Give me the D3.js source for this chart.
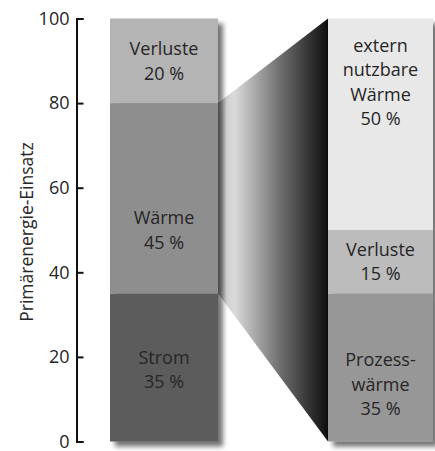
<!DOCTYPE html>
<html>
<head>
<meta charset="utf-8">
<script src="https://cdn.jsdelivr.net/npm/d3@7"></script>
<style>
  html, body { margin: 0; padding: 0; background: #fff; }
  svg { display: block; }
  text { font-family: "Open Sans", "Noto Sans", sans-serif; fill: #262626; }
</style>
</head>
<body>
<svg id="chart" width="435" height="451"></svg>
<script>
// ---- data ----
const yTicks = [0, 20, 40, 60, 80, 100];
const axisTitle = "Primärenergie-Einsatz";

// left column: Primärenergie-Einsatz
const leftNames  = ["Strom", "Wärme", "Verluste"];
const leftValues = [35, 45, 20];
const leftLabels = [["Strom", "35 %"], ["Wärme", "45 %"], ["Verluste", "20 %"]];
const leftLabelAt = [17, 50, 90];      // value at which label block is centred
const leftColors = ["#5b5b5b", "#8e8e8e", "#b4b4b4"];

// right column: breakdown of Wärme
const rightNames  = ["Prozesswärme", "Verluste", "extern nutzbare Wärme"];
const rightValues = [35, 15, 50];
const rightLabels = [["Prozess-", "wärme", "35 %"], ["Verluste", "15 %"], ["extern", "nutzbare", "Wärme", "50 %"]];
const rightLabelAt = [13.5, 42.5, 85];
const rightColors = ["#979797", "#bcbcbc", "#e8e8e8"];

const expandedIndex = 1; // Wärme is expanded into the right column

// ---- layout ----
const svg = d3.select("#chart");
const y = d3.scaleLinear().domain([0, 100]).range([441.5, 18.5]);
const x = d3.scaleOrdinal().domain(["left", "right"]).range([[110, 218], [328, 433]]);
const lineH = 24.5;

const defs = svg.append("defs");
const shadow = defs.append("filter").attr("id", "shadow")
  .attr("x", "-20%").attr("y", "-10%").attr("width", "150%").attr("height", "130%");
shadow.append("feDropShadow").attr("dx", 5).attr("dy", 5).attr("stdDeviation", 2.5)
  .attr("flood-color", "#000").attr("flood-opacity", 0.55);

const grad = defs.append("linearGradient").attr("id", "funnel")
  .attr("gradientUnits", "userSpaceOnUse")
  .attr("x1", x("left")[1]).attr("x2", x("right")[0]).attr("y1", 0).attr("y2", 0);
[[0, "#a8a8a8"], [0.08, "#d2d2d2"], [0.15, "#dadada"], [0.55, "#727272"], [0.97, "#151515"], [1, "#0a0a0a"]]
  .forEach(([o, c]) => grad.append("stop").attr("offset", o).attr("stop-color", c));

function stack(values) {
  let acc = 0;
  return values.map(v => { const s = acc; acc += v; return [s, acc]; });
}
const leftStack = stack(leftValues);
const rightStack = stack(rightValues);

// funnel connecting expanded segment to the full right column
const lx = x("left")[1], rx = x("right")[0];
const seg = leftStack[expandedIndex];
svg.append("path")
  .attr("d", d3.line()([[lx, y(seg[1])], [rx, y(100)], [rx, y(0)], [lx, y(seg[0])]]) + "Z")
  .attr("fill", "url(#funnel)");

function drawColumn(key, stk, colors, labels, labelAt) {
  const [x0, x1] = x(key);
  const g = svg.append("g");
  const bars = g.append("g").attr("filter", "url(#shadow)");
  bars.selectAll("rect").data(stk).join("rect")
    .attr("x", x0).attr("width", x1 - x0)
    .attr("y", d => y(d[1])).attr("height", d => y(d[0]) - y(d[1]))
    .attr("fill", (d, i) => colors[i]);
  const cx = (x0 + x1) / 2;
  labels.forEach((lines, i) => {
    const cy = y(labelAt[i]);
    const n = lines.length;
    const first = cy - (n - 1) * lineH / 2 + 6.5;
    g.append("text").attr("text-anchor", "middle").attr("font-size", 18)
      .selectAll("tspan").data(lines).join("tspan")
      .attr("x", cx).attr("y", (d, j) => first + j * lineH).text(d => d);
  });
}
drawColumn("left", leftStack, leftColors, leftLabels, leftLabelAt);
drawColumn("right", rightStack, rightColors, rightLabels, rightLabelAt);

// axis
const axis = svg.append("g").attr("transform", "translate(76.5,0)")
  .call(d3.axisLeft(y).tickValues(yTicks).tickSizeInner(-7).tickSizeOuter(-7).tickPadding(7));
axis.select(".domain").attr("stroke", "#111").attr("stroke-width", 2);
axis.selectAll(".tick line").attr("stroke", "#111").attr("stroke-width", 2);
axis.selectAll(".tick text").attr("font-size", 18).attr("fill", "#262626")
  .attr("font-family", "\"Open Sans\", \"Noto Sans\", sans-serif");

svg.append("text")
  .attr("transform", `translate(33,${(y(0) + y(100)) / 2 + 2}) rotate(-90)`)
  .attr("text-anchor", "middle").attr("font-size", 17.5)
  .text(axisTitle);
</script>
</body>
</html>
